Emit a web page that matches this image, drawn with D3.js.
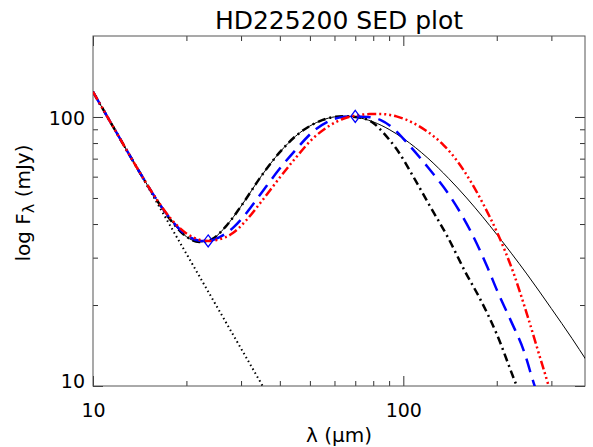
<!DOCTYPE html>
<html>
<head>
<meta charset="utf-8">
<script src="https://cdn.jsdelivr.net/npm/d3@7"></script>
<style>
  body { margin: 0; background: #fff; }
  text { font-family: "DejaVu Sans", sans-serif; fill: #000; }
</style>
</head>
<body>
<svg id="chart" width="593" height="447"></svg>
<script>
// wavelength (um), flux (mJy)
const photosphere = [[10, 124], [20, 31], [40, 7.75]];

const modelSolid = [
  [10, 124], [12, 86.1], [14, 63.5], [16, 49.4], [18, 40.7], [20, 35.9], [22, 34.3],
  [24, 35.0], [27, 39.6], [30, 46.6], [35, 60.7], [40, 74.0], [45, 84.9], [50, 92.6],
  [55, 97.5], [60, 100.1], [65, 100.7], [70, 100.0], [80, 95.9], [90, 89.9], [100, 83.2],
  [120, 70.3], [140, 59.1], [160, 50.0], [180, 42.6], [200, 36.6], [250, 26.1],
  [300, 19.4], [350, 15.0], [390, 12.4]
];

const modelDashDot = [
  [10, 124], [12, 86.1], [14, 63.5], [16, 49.4], [18, 40.7], [20, 35.9], [22, 34.3],
  [24, 35.0], [27, 39.6], [30, 46.6], [35, 60.7], [40, 74.0], [45, 84.9], [50, 92.6],
  [55, 97.5], [60, 100.1], [65, 100.7], [70, 100.0], [75, 98.6], [80, 95], [85, 89],
  [90, 82.5], [95.6, 75.4], [107.7, 60], [122, 46.5], [139, 35.8], [158.5, 26.5],
  [177, 21.0], [200, 15.6], [226, 10.8], [232, 10.0], [250, 8.0]
];

const modelBlue = [
  [10, 124], [12, 86.1], [14, 63.5], [16, 49.5], [18, 41.0], [20, 36.4], [22, 34.7],
  [23.5, 34.6], [25, 35.3], [28.3, 38.8], [31, 43.5], [34.6, 51.5], [40.1, 64.6],
  [45, 75.5], [51.3, 88.5], [57, 96], [64, 100], [70, 100.5], [77, 100], [84.3, 97.5],
  [93, 90.5], [103, 80], [120, 65], [142, 50.4], [165, 37.5], [187, 27.5], [201, 22.5],
  [222, 17.5], [244, 13.6], [265, 10.0], [290, 7.5]
];

const modelRed = [
  [10, 124], [12, 86.1], [14, 63.5], [16, 49.6], [18, 41.3], [20, 36.9], [22, 35.0],
  [23.5, 34.6], [25, 34.9], [28.3, 37.1], [31, 41], [34.6, 47.9], [40.1, 59.8],
  [45, 70.5], [51.3, 83.5], [58, 93], [64, 98.5], [71.1, 101.5], [78, 102.5],
  [84.3, 102.6], [95, 100.5], [107.7, 95], [120, 88], [135, 78.5], [150, 68],
  [165, 57.5], [180, 48], [201, 37], [226, 26.5], [251, 18.3], [275, 12.9], [294, 10.0],
  [320, 7.0]
];

const observed = [[23.5, 34.6], [70, 100.5]];

const xMajor = [10, 100];
const xMinor = [20, 30, 40, 50, 60, 70, 80, 90, 200, 300];
const yMajor = [10, 100];
const yMinor = [20, 30, 40, 50, 60, 70, 80, 90];

const margin = { top: 36, right: 8, bottom: 61, left: 93 };
const width = 593, height = 447;

const svg = d3.select("#chart");

const x = d3.scaleLog().domain([10, 385]).range([margin.left, width - margin.right]);
const y = d3.scaleLog().domain([10, 200]).range([height - margin.bottom, margin.top]);

const x0 = x.range()[0], x1 = x.range()[1];
const y0 = y.range()[0], y1 = y.range()[1];

svg.append("defs").append("clipPath").attr("id", "plot-clip")
  .append("rect")
  .attr("x", x0).attr("y", y1)
  .attr("width", x1 - x0).attr("height", y0 - y1);

// axes, ticks point inwards
function tickAxis(axis, size, g) {
  g.call(axis.tickSizeInner(-size).tickSizeOuter(0));
  g.select(".domain").remove();
  g.selectAll(".tick line").attr("stroke", "#333").attr("stroke-width", 1);
}

const noLabel = () => "";

tickAxis(d3.axisBottom(x).tickValues(xMinor).tickFormat(noLabel), 5,
  svg.append("g").attr("transform", `translate(0,${y0})`));
tickAxis(d3.axisTop(x).tickValues(xMinor).tickFormat(noLabel), 5,
  svg.append("g").attr("transform", `translate(0,${y1})`));
tickAxis(d3.axisTop(x).tickValues(xMajor).tickFormat(noLabel), 10,
  svg.append("g").attr("transform", `translate(0,${y1})`));
tickAxis(d3.axisLeft(y).tickValues(yMinor).tickFormat(noLabel), 5,
  svg.append("g").attr("transform", `translate(${x0},0)`));
tickAxis(d3.axisRight(y).tickValues(yMinor).tickFormat(noLabel), 5,
  svg.append("g").attr("transform", `translate(${x1},0)`));
tickAxis(d3.axisRight(y).tickValues(yMajor).tickFormat(noLabel), 10,
  svg.append("g").attr("transform", `translate(${x1},0)`));

const xAxisG = svg.append("g").attr("transform", `translate(0,${y0})`);
tickAxis(d3.axisBottom(x).tickValues(xMajor).tickFormat(d3.format("d")), 10, xAxisG);
xAxisG.selectAll(".tick text")
  .attr("y", 31).attr("dy", 0)
  .attr("font-size", 19).attr("font-family", "DejaVu Sans, sans-serif").attr("fill", "#000");

const yAxisG = svg.append("g").attr("transform", `translate(${x0},0)`);
tickAxis(d3.axisLeft(y).tickValues(yMajor).tickFormat(d3.format("d")), 10, yAxisG);
yAxisG.selectAll(".tick text")
  .attr("x", -8)
  .attr("dy", d => (d === 10 ? 1 : 7.5))
  .attr("font-size", 19).attr("font-family", "DejaVu Sans, sans-serif").attr("fill", "#000");

// frame
svg.append("rect")
  .attr("x", x0).attr("y", y1)
  .attr("width", x1 - x0).attr("height", y0 - y1)
  .attr("fill", "none").attr("stroke", "#555").attr("stroke-width", 1);

// curves
const line = d3.line()
  .x(d => x(d[0]))
  .y(d => y(d[1]))
  .curve(d3.curveMonotoneX);

const plot = svg.append("g").attr("clip-path", "url(#plot-clip)");

const series = [
  { data: modelSolid, color: "#000", width: 1, dash: null },
  { data: photosphere, color: "#000", width: 2, dash: "1.5,3" },
  { data: modelDashDot, color: "#000", width: 2.5, dash: "8,4,2,4" },
  { data: modelBlue, color: "#0000ff", width: 2.5, dash: "14,8" },
  { data: modelRed, color: "#ff0000", width: 2.5, dash: "9,3,2,3,2,3,2,3" }
];

plot.selectAll("path.sed")
  .data(series)
  .join("path")
  .attr("class", "sed")
  .attr("d", d => line(d.data))
  .attr("fill", "none")
  .attr("stroke", d => d.color)
  .attr("stroke-width", d => d.width)
  .attr("stroke-dasharray", d => d.dash);

// photometry points as open diamonds
plot.selectAll("path.obs")
  .data(observed)
  .join("path")
  .attr("class", "obs")
  .attr("transform", d => `translate(${x(d[0])},${y(d[1])})`)
  .attr("d", "M0,-6L4.5,0L0,6L-4.5,0Z")
  .attr("fill", "none")
  .attr("stroke", "#0000ff")
  .attr("stroke-width", 1.3);

// titles
svg.append("text")
  .attr("x", (x0 + x1) / 2).attr("y", 29)
  .attr("text-anchor", "middle")
  .attr("font-size", 25)
  .text("HD225200 SED plot");

svg.append("text")
  .attr("x", (x0 + x1) / 2).attr("y", 442)
  .attr("text-anchor", "middle")
  .attr("font-size", 20)
  .text("λ (μm)");

const yLabel = svg.append("text")
  .attr("transform", `translate(30,${(y0 + y1) / 2 - 8}) rotate(-90)`)
  .attr("text-anchor", "middle")
  .attr("font-size", 20);
yLabel.append("tspan").text("log F");
yLabel.append("tspan").attr("font-size", 16).attr("dy", 4).text("λ");
yLabel.append("tspan").attr("dy", -4).text(" (mJy)");
</script>
</body>
</html>
